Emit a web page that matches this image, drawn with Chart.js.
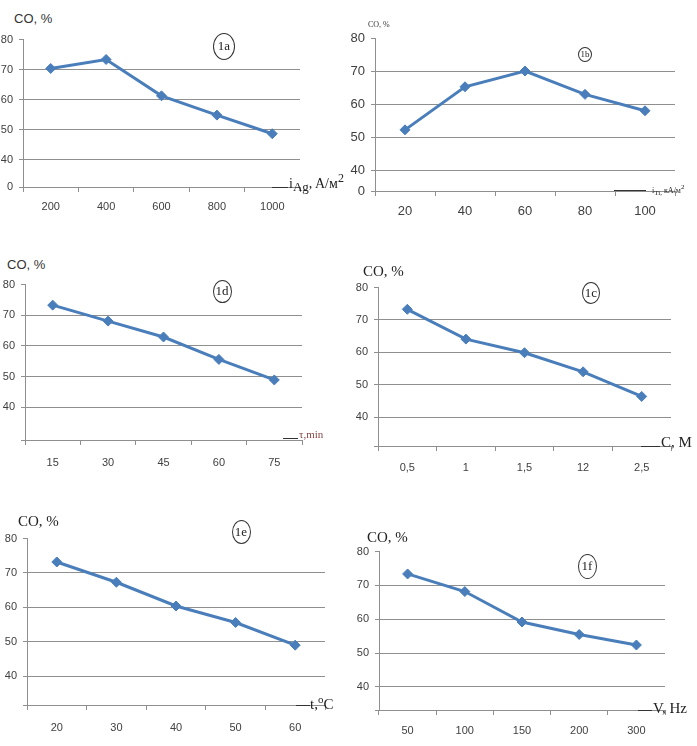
<!DOCTYPE html>
<html>
<head>
<meta charset="utf-8">
<script src="https://cdn.jsdelivr.net/npm/chart.js@4/dist/chart.umd.min.js"></script>
<style>
  body { margin: 0; background: #fff; }
  #wrap { position: relative; width: 697px; height: 746px; overflow: hidden; background: #fff; }
  .lbl { position: absolute; white-space: nowrap; color: #222; line-height: 1; }
  .sans { font-family: 'Liberation Sans', Arial, sans-serif; }
  .serif { font-family: 'Liberation Serif', 'Times New Roman', serif; }
  .circ { position: absolute; border: 1px solid #333; border-radius: 50%; box-sizing: border-box;
          display: flex; align-items: center; justify-content: center;
          font-family: 'Liberation Serif', serif; color: #222; }
  .dash { position: absolute; height: 0; border-top: 1px solid #333; }
</style>
</head>
<body>
<div id="wrap"></div>
<script>
// data
const catsA = ['200', '400', '600', '800', '1000'];
const valsA = [70.4, 73.4, 61.3, 54.9, 48.7];

const catsB = ['20', '40', '60', '80', '100'];
const valsB = [52.3, 65.4, 70.2, 63.1, 58.1];

const catsD = ['15', '30', '45', '60', '75'];
const valsD = [73.3, 68.1, 62.9, 55.6, 48.9];

const catsC = ['0,5', '1', '1,5', '12', '2,5'];
const valsC = [73.3, 64.1, 59.9, 54.0, 46.4];

const catsE = ['20', '30', '40', '50', '60'];
const valsE = [73.2, 67.3, 60.4, 55.6, 49.0];

const catsF = ['50', '100', '150', '200', '300'];
const valsF = [73.4, 68.2, 59.2, 55.5, 52.4];

const yTicks = [40, 50, 60, 70, 80];

const BLUE = '#4a7ebb';
const GRID = '#8f8f8f';
const wrap = document.getElementById('wrap');

function panel(cfg) {
  const padT = 12, padR = 12, yW = 40, xH = 32;
  const right = cfg.left + 5 * cfg.step;
  const w = Math.round(right - cfg.left + yW + padR);
  const h = cfg.bottom - cfg.top + padT + xH;
  const canvas = document.createElement('canvas');
  canvas.width = w;
  canvas.height = h;
  canvas.style.cssText = `position:absolute;left:${cfg.left - yW}px;top:${cfg.top - padT}px;width:${w}px;height:${h}px`;
  wrap.appendChild(canvas);

  const font = cfg.font || { family: "'Liberation Sans', Arial, sans-serif", size: 11 };

  new Chart(canvas, {
    type: 'line',
    data: {
      labels: cfg.cats,
      datasets: [{
        data: cfg.vals,
        borderColor: BLUE,
        backgroundColor: BLUE,
        borderWidth: 3,
        tension: 0,
        pointStyle: 'rectRot',
        pointRadius: 5,
        pointBorderWidth: 1
      }]
    },
    options: {
      responsive: false,
      animation: false,
      devicePixelRatio: 1,
      layout: { autoPadding: false, padding: { top: padT, right: padR, left: 0, bottom: 0 } },
      plugins: { legend: { display: false }, tooltip: { enabled: false } },
      scales: {
        x: {
          offset: true,
          afterFit: s => { s.height = xH; },
          grid: { drawOnChartArea: false, offset: true, tickLength: 5, color: GRID },
          border: { color: GRID },
          ticks: { font: font, color: '#404040', padding: cfg.xPad, maxRotation: 0 }
        },
        y: {
          min: cfg.yMin,
          max: 80,
          afterFit: s => { s.width = yW; },
          afterBuildTicks: s => { s.ticks = [cfg.yMin].concat(yTicks).map(v => ({ value: v })); },
          grid: {
            color: c => (c.tick && c.tick.value === 80) ? 'rgba(0,0,0,0)' : GRID,
            tickColor: GRID,
            tickLength: 4
          },
          border: { color: GRID },
          ticks: {
            font: font,
            color: '#404040',
            padding: 6,
            callback: v => v === cfg.yMin ? cfg.zeroLabel : v
          }
        }
      }
    }
  });
}

function addLbl(html, cls, x, y, size, color) {
  const d = document.createElement('div');
  d.className = 'lbl ' + cls;
  d.style.left = x + 'px';
  d.style.top = y + 'px';
  d.style.fontSize = size + 'px';
  if (color) d.style.color = color;
  d.innerHTML = html;
  wrap.appendChild(d);
}

function addCirc(text, cx, cy, w, h, size) {
  const d = document.createElement('div');
  d.className = 'circ';
  d.style.cssText += `left:${cx - w / 2}px;top:${cy - h / 2}px;width:${w}px;height:${h}px;font-size:${size}px`;
  d.textContent = text;
  wrap.appendChild(d);
}

function addDash(x1, x2, y) {
  const d = document.createElement('div');
  d.className = 'dash';
  d.style.cssText += `left:${x1}px;top:${y}px;width:${x2 - x1}px`;
  wrap.appendChild(d);
}

// 1a
panel({ cats: catsA, vals: valsA, left: 23, top: 39, bottom: 187, step: 55.3, yMin: 31, zeroLabel: '0', xPad: 8 });
addLbl('CO, %', 'sans', 14, 12, 13, '#333');
addCirc('1a', 224, 46, 22, 27, 13);
addDash(272, 288, 187);
addLbl('i<sub style="font-size:13px">Ag</sub>, A/м<sup style="font-size:12px">2</sup>', 'serif', 289, 172, 14);

// 1b
const narrow = { family: "'Liberation Sans Narrow', 'Liberation Sans', Arial, sans-serif", size: 13 };
panel({ cats: catsB, vals: valsB, left: 375, top: 37, bottom: 191, step: 60, yMin: 33.7, zeroLabel: '0', xPad: 8, font: narrow });
addLbl('CO, %', 'serif', 368, 21, 8, '#333');
addCirc('1b', 585, 54, 14, 15, 9);
addDash(614, 646, 190);
addLbl('i<sub style="font-size:7px">Ti,</sub> кА/м<sup style="font-size:7px">2</sup>', 'serif', 652, 184, 8);

// 1d
panel({ cats: catsD, vals: valsD, left: 25, top: 284, bottom: 440, step: 55.3, yMin: 29.3, zeroLabel: '', xPad: 11 });
addLbl('CO, %', 'sans', 7, 258, 13, '#333');
addCirc('1d', 222, 291, 19, 23, 13);
addDash(283, 298, 438);
addLbl('τ,min', 'serif', 299, 429, 11, '#844');

// 1c
panel({ cats: catsC, vals: valsC, left: 378, top: 287, bottom: 446, step: 58.6, yMin: 31.1, zeroLabel: '', xPad: 10 });
addLbl('CO, %', 'serif', 363, 264, 15);
addCirc('1c', 591, 293, 18, 22, 13);
addDash(641, 660, 446);
addLbl('C, M', 'serif', 661, 435, 15);

// 1e
panel({ cats: catsE, vals: valsE, left: 27, top: 538, bottom: 705, step: 59.6, yMin: 31.6, zeroLabel: '', xPad: 11 });
addLbl('CO, %', 'serif', 18, 514, 15);
addCirc('1e', 241, 532, 19, 24, 13);
addDash(296, 310, 705);
addLbl('t,<sup style="font-size:11px">o</sup>C', 'serif', 310, 694, 15);

// 1f
panel({ cats: catsF, vals: valsF, left: 379, top: 551, bottom: 710, step: 57.2, yMin: 33.2, zeroLabel: '', xPad: 9 });
addLbl('CO, %', 'serif', 367, 530, 15);
addCirc('1f', 587, 566, 19, 25, 13);
addDash(638, 652, 710);
addLbl('V, Hz', 'serif', 653, 701, 15);
</script>
</body>
</html>
